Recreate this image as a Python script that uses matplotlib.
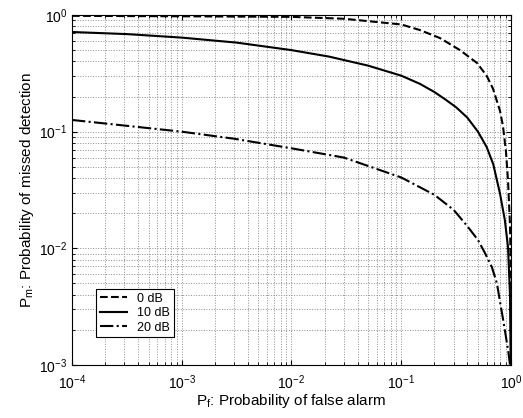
import numpy as np
import matplotlib
matplotlib.use("Agg")
import matplotlib.pyplot as plt

plt.rcParams["font.family"] = ["Liberation Sans", "DejaVu Sans"]
plt.rcParams["mathtext.default"] = "regular"

pf_0db = [1e-4, 1e-3, 1e-2, 3e-2, 0.1, 0.148, 0.225, 0.343, 0.49, 0.6, 0.685, 0.794, 0.845, 0.9, 0.94,
          0.98, 0.99, 0.997, 0.999]
pm_0db = [0.984, 0.975, 0.964, 0.929, 0.83, 0.743, 0.635, 0.50, 0.388, 0.302, 0.234, 0.151, 0.112, 0.068, 0.038,
          0.0158, 0.009, 0.004, 0.001]

pf_10db = [1e-4, 3.16e-4, 1e-3, 3.16e-3, 1e-2, 2.2e-2, 5e-2, 0.1, 0.148, 0.2, 0.25, 0.316, 0.4, 0.5, 0.6,
           0.69, 0.794, 0.88, 0.94, 0.98, 0.995]
pm_10db = [0.715, 0.686, 0.64, 0.58, 0.50, 0.44, 0.368, 0.302, 0.257, 0.219, 0.19, 0.162, 0.132, 0.10, 0.074,
           0.0525, 0.0295, 0.0174, 0.0102, 0.004, 0.001]

pf_20db = [1e-4, 1e-3, 3e-3, 1e-2, 3e-2, 0.1, 0.2, 0.3, 0.4, 0.5, 0.58, 0.67, 0.745, 0.794, 0.845, 0.9, 0.95, 0.98]
pm_20db = [0.126, 0.10, 0.087, 0.072, 0.06, 0.0405, 0.0288, 0.0214, 0.0155, 0.0118, 0.0091, 0.0069, 0.005, 0.0035,
           0.0025, 0.00174, 0.00126, 0.001]

labels = ["0 dB", "10 dB", "20 dB"]

fig = plt.figure(figsize=(5.23, 4.18), dpi=100)
ax = fig.add_axes([0.1377, 0.1268, 0.8393, 0.8373])

ax.loglog(pf_0db, pm_0db, "k--", linewidth=1.5, label=labels[0])
ax.loglog(pf_10db, pm_10db, "k-", linewidth=1.5, label=labels[1])
ax.loglog(pf_20db, pm_20db, "k-.", linewidth=1.5, label=labels[2])

ax.set_xlim(1e-4, 1)
ax.set_ylim(1e-3, 1)
ax.grid(True, which="both", linestyle=":", color="0.55", linewidth=0.7)
ax.tick_params(which="both", direction="in", top=True, right=True, labelsize=10)
ax.tick_params(axis="x", which="major", pad=6)

ax.set_xlabel("P$_{f}$: Probability of false alarm", fontsize=11, labelpad=0)
ax.set_ylabel("P$_{m}$: Probability of missed detection", fontsize=11, labelpad=2)

leg = ax.legend(loc="upper left", bbox_to_anchor=(0.04, 0.235), fontsize=9,
                fancybox=False, framealpha=1, edgecolor="black",
                handlelength=2.2, borderpad=0.3, labelspacing=0.2)
leg.get_frame().set_linewidth(0.8)

fig.savefig("out.png", dpi=100)
